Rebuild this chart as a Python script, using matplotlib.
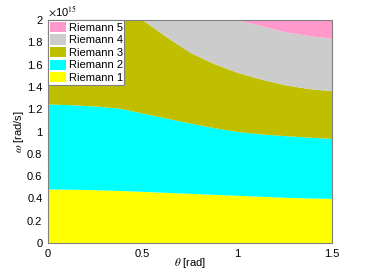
import matplotlib
matplotlib.use("Agg")
import matplotlib.pyplot as plt
from matplotlib.patches import Patch

# theta grid [rad]
theta = [0, 0.125, 0.25, 0.375, 0.5, 0.625, 0.75, 0.875, 1.0, 1.125, 1.25, 1.375, 1.5]
# upper boundaries of each Riemann region, in units of 1e15 rad/s
riemann1_top = [0.484, 0.482, 0.478, 0.471, 0.463, 0.454, 0.445, 0.436, 0.428, 0.419, 0.410, 0.404, 0.400]
riemann2_top = [1.247, 1.240, 1.228, 1.210, 1.165, 1.120, 1.076, 1.035, 1.000, 0.978, 0.963, 0.950, 0.937]
riemann3_top = [2.80, 2.50, 2.30, 2.15, 2.00, 1.85, 1.71, 1.61, 1.53, 1.47, 1.42, 1.385, 1.365]
riemann4_top = [3.20, 3.00, 2.80, 2.55, 2.35, 2.22, 2.13, 2.06, 2.00, 1.95, 1.895, 1.86, 1.836]
riemann5_top = [3.5] * 13

labels = ["Riemann 1", "Riemann 2", "Riemann 3", "Riemann 4", "Riemann 5"]
colors = ["#FFFF00", "#00FFFF", "#BFBF00", "#CCCCCC", "#FF99CC"]
xticks = [0, 0.5, 1, 1.5]
xticklabels = ["0", "0.5", "1", "1.5"]
yticks = [0, 0.2, 0.4, 0.6, 0.8, 1.0, 1.2, 1.4, 1.6, 1.8, 2.0]
yticklabels = ["0", "0.2", "0.4", "0.6", "0.8", "1", "1.2", "1.4", "1.6", "1.8", "2"]

plt.rcParams['font.family'] = ['Liberation Sans', 'DejaVu Sans']
plt.rcParams['mathtext.fontset'] = 'stix'

fig = plt.figure(figsize=(3.67, 2.73), dpi=100)
ax = fig.add_axes([48/367, 30/273, 284/367, 223/273])

tops = [riemann1_top, riemann2_top, riemann3_top, riemann4_top, riemann5_top]
bottom = [0] * len(theta)
for top, c in zip(tops, colors):
    ax.fill_between(theta, bottom, top, color=c, linewidth=0)
    bottom = top

ax.set_xlim(0, 1.5)
ax.set_ylim(0, 2)
ax.set_xticks(xticks)
ax.set_xticklabels(xticklabels, fontsize=8)
ax.set_yticks(yticks)
ax.set_yticklabels(yticklabels, fontsize=8)
ax.tick_params(length=0, pad=4)
for s in ax.spines.values():
    s.set_color("#808080")
    s.set_linewidth(0.8)

ax.set_xlabel(r"$\theta$ [rad]", fontsize=8)
ax.set_ylabel(r"$\omega$ [rad/s]", fontsize=8)
ax.xaxis.set_label_coords(0.5, -0.06)
ax.yaxis.set_label_coords(-0.077, 0.5)
ax.text(0, 1.005, r"$\times$10$^{15}$", transform=ax.transAxes, fontsize=8,
        ha="left", va="bottom")

handles = [Patch(facecolor=c, edgecolor="none", label=l)
           for c, l in zip(colors[::-1], labels[::-1])]
leg = ax.legend(handles=handles, loc="upper left", fontsize=8, frameon=True,
                fancybox=False, borderaxespad=0, borderpad=0.15,
                labelspacing=0.15, handlelength=1.5, handleheight=1.05,
                handletextpad=0.2)
leg.get_frame().set_edgecolor("#808080")
leg.get_frame().set_linewidth(0.8)
leg.get_frame().set_alpha(1)

fig.savefig("out.png", dpi=100)
